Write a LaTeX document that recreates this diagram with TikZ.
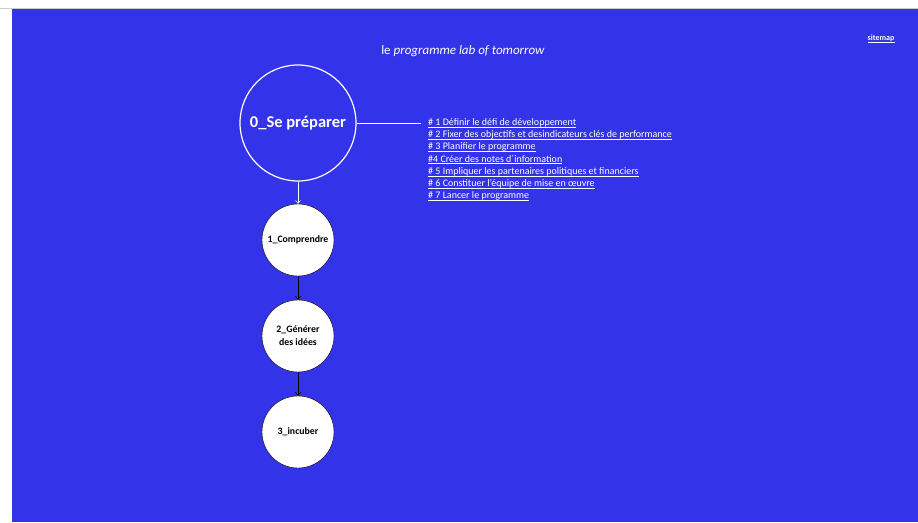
\documentclass[tikz,border=0pt]{standalone}
\usepackage{fontspec}
\setmainfont{Carlito}
\usetikzlibrary{arrows.meta}
\definecolor{labblue}{RGB}{51,51,234}
\tikzset{
  stage/.style={circle, draw=black, fill=white, minimum size=72pt, inner sep=0pt,
    align=center, font=\fontsize{9.8}{13}\selectfont\bfseries, text=black},
  startstage/.style={circle, draw=white, line width=1.2pt, minimum size=116pt, inner sep=0pt,
    font=\fontsize{16.5}{19}\selectfont\bfseries, text=white},
  linkitem/.style={anchor=base west, inner sep=0pt, text=white, font=\fontsize{10}{12}\selectfont},
  flow/.style={-{Straight Barb[length=3pt,width=5pt]}, line width=0.7pt},
  uline/.style={white, line width=0.5pt},
}
% underline a named text node just below its baseline
\newcommand{\underlinenode}[1]{\draw[uline] ([yshift=-1.5pt]#1.base west) -- ([yshift=-1.5pt]#1.base east);}
\begin{document}
\begin{tikzpicture}[x=1pt,y=-1pt]
  \useasboundingbox (0,0) rectangle (918,522);
  % page frame and blue canvas
  \fill[white] (0,0) rectangle (918,522);
  \draw[gray!40, line width=1pt] (0,8.5) -- (918,8.5);
  \fill[labblue] (12,9) rectangle (918,522);

  % header
  \node[text=white, font=\fontsize{13}{15}\selectfont] (title) at (463,51) {le \textit{programme lab of tomorrow}};
  \node[text=white, font=\fontsize{8}{10}\selectfont\bfseries, inner sep=0pt, anchor=base] (sitemap) at (881,40.5) {sitemap};
  \underlinenode{sitemap}

  % stages
  \node[startstage] (s0) at (298,123) {0\_Se préparer};
  \node[stage] (s1) at (298,240) {1\_Comprendre};
  \node[stage] (s2) at (298,336) {2\_Générer\\des idées};
  \node[stage] (s3) at (298,432) {3\_incuber};

  \draw[flow, white, line width=0.5pt] (s0) -- (s1);
  \draw[flow, black] (s1) -- (s2);
  \draw[flow, black] (s2) -- (s3);

  % step links of stage 0
  \coordinate (lk) at (421,123);
  \draw[white, line width=0.8pt] (s0.east) -- (lk);
  \node[linkitem] (l1) at (428,125.5) {\# 1 Définir le défi de développement};
  \node[linkitem] (l2) at (428,137.7) {\# 2 Fixer des objectifs et desindicateurs clés de performance};
  \node[linkitem] (l3) at (428,149.9) {\# 3 Planifier le programme};
  \node[linkitem] (l4) at (428,162.1) {\#4 Créer des notes d´information};
  \node[linkitem] (l5) at (428,174.3) {\# 5 Impliquer les partenaires politiques et financiers};
  \node[linkitem] (l6) at (428,186.5) {\# 6 Constituer l’équipe de mise en œuvre};
  \node[linkitem] (l7) at (428,198.7) {\# 7 Lancer le programme};
  \foreach \n in {l1,l2,l3,l4,l5,l6,l7} {\underlinenode{\n}}
\end{tikzpicture}
\end{document}
